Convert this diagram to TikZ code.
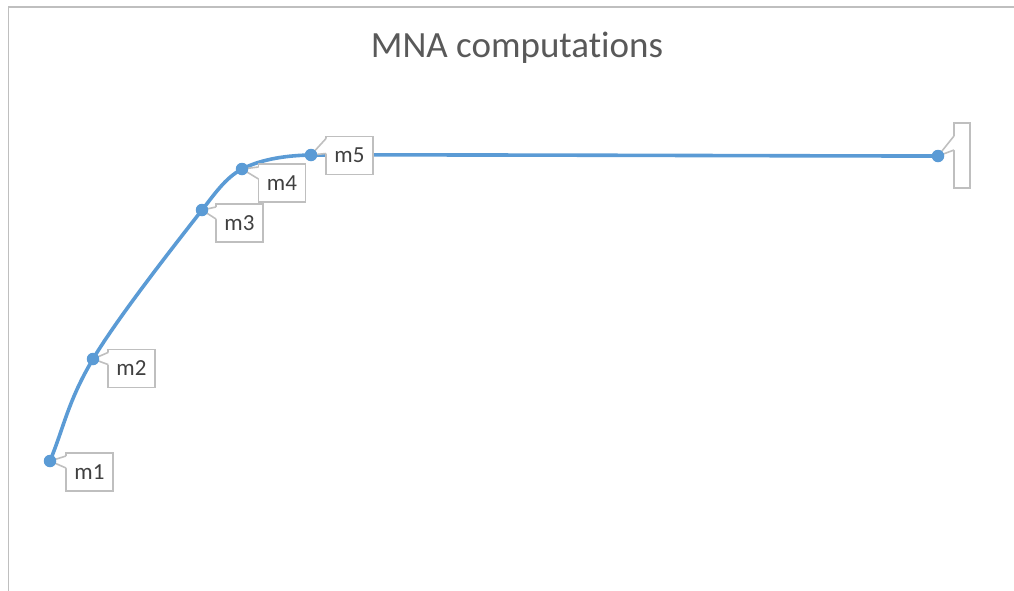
\documentclass[tikz,border=0pt]{standalone}
\usepackage{fontspec}
\setmainfont{Carlito}[Ligatures=NoCommon]
\usetikzlibrary{calc}
\definecolor{serieblue}{HTML}{5B9BD5}
\definecolor{framegray}{HTML}{BFBFBF}
\definecolor{labelgray}{HTML}{404040}
\definecolor{titlegray}{HTML}{595959}
\tikzset{
  lbl/.style={rectangle, draw=framegray, line width=1.6pt, fill=white,
    inner sep=0pt, outer sep=0pt, minimum width=47pt, minimum height=38pt,
    text=labelgray, font=\fontsize{23}{27}\selectfont},
  wedgeline/.style={framegray, line width=1.6pt, line join=miter},
  marker/.style={circle, fill=serieblue, inner sep=0pt, minimum size=12.5pt},
  series/.style={serieblue, line width=3.6pt, line cap=round, line join=round},
  frame/.style={framegray, line width=1.5pt}
}
% wedge from box #1 (left edge, #3..#4 below its top) to point #2
\newcommand{\mywedge}[4]{%
  \fill[white] (#2) -- ($(#1.north west)+(0,#3)$) -- ($(#1.north west)+(1.5,#3)$)
     -- ($(#1.north west)+(1.5,#4)$) -- ($(#1.north west)+(0,#4)$) -- cycle;
  \draw[wedgeline] ($(#1.north west)+(0,#3)$) -- (#2) -- ($(#1.north west)+(0,#4)$);
}
\begin{document}
\begin{tikzpicture}[x=1pt,y=-1pt]
\useasboundingbox (0,0) rectangle (1014,590);
% chart frame
\coordinate (fa) at (8.5,600);
\coordinate (fb) at (8.5,7);
\coordinate (fc) at (1020,7);
\draw[frame] (fa) -- (fb) -- (fc);
% title
\node[text=titlegray, font=\fontsize{37}{42}\selectfont] (title) at (517,48) {MNA computations};
% data points
\coordinate (p1) at (50,461);
\coordinate (p2) at (93,359);
\coordinate (p3) at (202,210);
\coordinate (p4) at (242,169);
\coordinate (p5) at (311,155);
\coordinate (p6) at (938,156);
\draw[series] (p1) .. controls (64,427) and (68,401) .. (p2)
  .. controls (118,317) and (177,242) .. (p3)
  .. controls (214,195) and (225,178) .. (p4)
  .. controls (262.5,158.6) and (288,155.4) .. (p5)
  .. controls (450,154.5) and (800,156) .. (p6);
% callouts
\node[lbl] (l1) at (89.5,472) {m1};
\node[lbl] (l2) at (131.5,368.5) {m2};
\node[lbl] (l3) at (239.5,223) {m3};
\node[lbl] (l4) at (282,183) {m4};
\node[lbl] (l5) at (349.5,155.5) {m5};
\node[lbl, minimum width=16pt, minimum height=65pt] (l6) at (962,155.5) {};
\mywedge{l1}{p1}{3}{15}
\mywedge{l2}{p2}{3}{15}
\mywedge{l3}{p3}{3}{15}
\mywedge{l4}{p4}{3}{15}
\mywedge{l5}{p5}{2}{17}
\mywedge{l6}{p6}{13}{27}
% markers
\foreach \p in {p1,p2,p3,p4,p5,p6} \node[marker] (m-\p) at (\p) {};
\end{tikzpicture}
\end{document}
